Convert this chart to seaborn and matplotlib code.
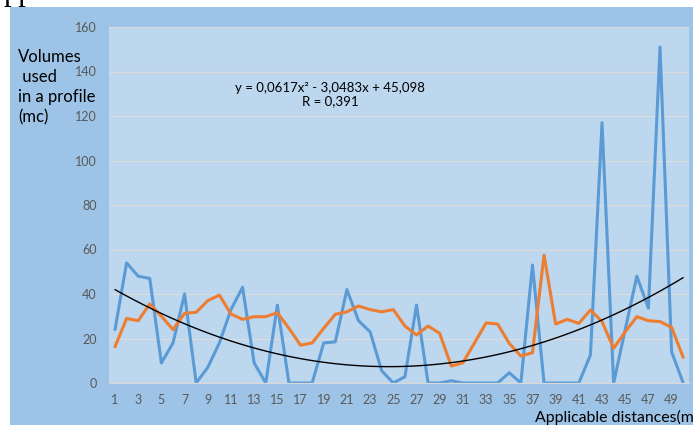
import numpy as np
import pandas as pd
import matplotlib
matplotlib.use("Agg")
import matplotlib.pyplot as plt
from matplotlib.patches import Rectangle
import seaborn as sns

# distances (categories 1..50)
distances = list(range(1, 51))
# volumes used in a profile (blue)
volumes_blue = [24, 54, 48, 47, 9, 18, 40, 0, 7, 18, 33, 43, 9, 0, 35, 0, 0, 0, 18, 18.5,
                42, 28, 23, 5.5, 0, 2.8, 35, 0, 0, 1, 0, 0, 0, 0, 4.6, 0, 53, 0, 0, 0,
                0, 12.6, 117, 0, 24, 48, 33.6, 151, 14, 0]
# second series (orange)
volumes_orange = [16.3, 29, 28, 35.5, 30, 24, 31.3, 31.8, 37, 39.5, 31, 28.6, 29.8, 29.8, 31.6, 24.6, 17, 18, 24.6, 30.9,
                  32, 34.6, 33, 32, 33, 25.6, 21.6, 25.6, 22.3, 7.6, 9.1, 18, 27, 26.5, 17.8, 12.1, 13.6, 57.5, 26.5, 28.6,
                  26.8, 32.8, 27.6, 15.6, 23, 29.8, 28, 27.6, 25, 11.5]
y_ticks = [0, 20, 40, 60, 80, 100, 120, 140, 160]
x_tick_labels = list(range(1, 51, 2))

df = pd.DataFrame({"dist": distances, "blue": volumes_blue, "orange": volumes_orange})

sns.set_style("white")
plt.rcParams["font.family"] = ["Lato", "DejaVu Sans"]

W, H = 693, 425
fig = plt.figure(figsize=(W / 100, H / 100), dpi=100, facecolor="white")
fig.patches.append(Rectangle((10 / W, 0), 1, (H - 7) / H, transform=fig.transFigure,
                             facecolor="#9dc3e6", edgecolor="none", zorder=-5))

ax = fig.add_axes([109.2 / W, (H - 383) / H, (689 - 109.2) / W, (383 - 27) / H])
ax.set_facecolor("#bdd7ee")

sns.lineplot(data=df, x="dist", y="blue", color="#5b9bd5", lw=2.2, ax=ax)
sns.lineplot(data=df, x="dist", y="orange", color="#ed7d31", lw=2.2, ax=ax)
# polynomial trend (order 2) fitted by seaborn
sns.regplot(data=df, x="dist", y="blue", order=2, scatter=False, ci=None, truncate=True,
            line_kws={"color": "black", "lw": 1}, ax=ax)

ax.set_xlim(0.5, 50.5)
ax.set_ylim(0, 160)
ax.set_yticks(y_ticks)
ax.set_xticks(x_tick_labels)
ax.set_xticks(np.arange(0.5, 51, 1), minor=True)
ax.tick_params(axis="x", which="major", length=0, pad=8, labelsize=9, labelcolor="#595959")
ax.tick_params(axis="x", which="minor", length=4, width=0.8, color="#e0e0e0", direction="out")
ax.tick_params(axis="y", length=0, pad=9, labelsize=9, labelcolor="#595959")
ax.yaxis.grid(True, color="#dcdcdc", lw=0.9)
ax.set_axisbelow(True)
for s in ["top", "right", "left"]:
    ax.spines[s].set_visible(False)
ax.spines["bottom"].set_color("#d9d9d9")
ax.spines["bottom"].set_linewidth(0.9)
ax.set_xlabel("")
ax.set_ylabel("")

fig.text(18 / W, (H - 49) / H, "Volumes\n used\nin a profile\n(mc)", ha="left", va="top",
         fontsize=12, color="black", linespacing=1.32)
fig.text(330 / W, (H - 94.5) / H, "y = 0,0617x² - 3,0483x + 45,098\nR = 0,391", ha="center", va="center",
         multialignment="center", fontsize=9.5, color="black", linespacing=1.15)
fig.text(535 / W, (H - 417) / H, "Applicable distances(m)", ha="left", va="center", fontsize=11.4, color="black")
fig.text(4 / W, 1.0, "pp", ha="left", va="baseline", fontsize=22, family="Liberation Serif", color="black")

fig.savefig("out.png", dpi=100, facecolor="white")
